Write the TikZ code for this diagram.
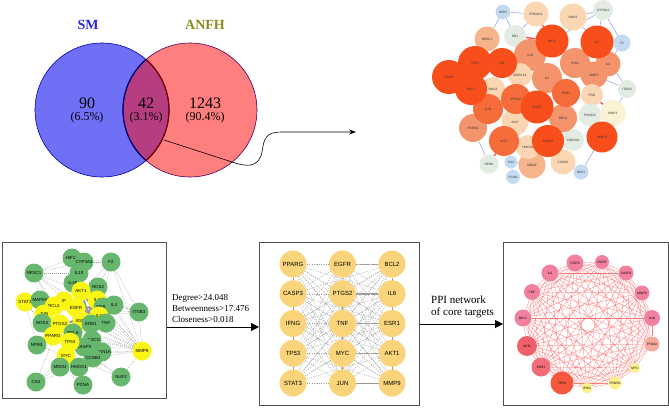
\documentclass[tikz,border=0pt]{standalone}
\usepackage{fontspec}
\setmainfont{Liberation Serif}
\setsansfont{Liberation Sans}
\usetikzlibrary{arrows.meta}
\pgfdeclarelayer{bg}
\pgfdeclarelayer{edges}
\pgfsetlayers{bg,edges,main}
\definecolor{smblue}{RGB}{112,112,246}
\definecolor{anred}{RGB}{255,126,126}
\definecolor{lens}{RGB}{182,62,128}
\definecolor{smtxt}{RGB}{40,40,230}
\definecolor{antxt}{RGB}{140,140,30}
\definecolor{c1}{RGB}{247,78,28}
\definecolor{c2}{RGB}{245,108,58}
\definecolor{c3}{RGB}{244,148,108}
\definecolor{c4}{RGB}{246,180,140}
\definecolor{c5}{RGB}{250,214,178}
\definecolor{c6}{RGB}{226,236,226}
\definecolor{c7}{RGB}{196,218,240}
\definecolor{c8}{RGB}{250,242,210}
\definecolor{gnode}{RGB}{102,182,110}
\definecolor{ynode}{RGB}{250,245,20}
\definecolor{onode}{RGB}{249,212,122}
\definecolor{pnode}{RGB}{240,128,158}
\definecolor{cpt}{RGB}{245,170,160}
\definecolor{cyl}{RGB}{250,240,140}
\definecolor{ctp}{RGB}{246,88,62}
\definecolor{cak}{RGB}{240,96,106}
\definecolor{cesr}{RGB}{240,108,120}
\definecolor{boxc}{RGB}{80,80,80}
\tikzset{
  trn/.style={circle,inner sep=0pt,font=\sffamily\fontsize{3.2}{3.6}\selectfont,text=black!80},
  tre/.style={draw=c7!70!blue,line width=0.5pt},
  trr/.style={draw=red!75,line width=1.3pt},
  bln/.style={circle,inner sep=0pt,minimum size=19pt,font=\sffamily\fontsize{4.4}{5}\selectfont},
  bed/.style={draw=gray!75,dash pattern=on 1pt off 1pt,line width=0.35pt},
  mgn/.style={circle,inner sep=0pt,minimum size=27pt,fill=onode,font=\sffamily\fontsize{6}{7}\selectfont},
  med/.style={draw=gray!75,dash pattern=on 1.2pt off 1.2pt,line width=0.4pt},
  msol/.style={draw=gray!80,line width=0.6pt},
  crn/.style={circle,inner sep=0pt,font=\sffamily\fontsize{3.2}{3.6}\selectfont},
  ced/.style={draw=red!70,line width=0.3pt,opacity=0.7},
  panel/.style={draw=boxc,line width=0.8pt},
  bigarrow/.style={-{Triangle[length=8pt,width=8pt]},line width=1pt},
  lbl/.style={anchor=west,align=left,inner sep=0pt}
}
\begin{document}
\begin{tikzpicture}[x=1pt,y=-1pt]
\useasboundingbox (0,0) rectangle (669,407);
\begin{pgfonlayer}{bg}
\fill[white] (0,0) rectangle (669,407);
\end{pgfonlayer}

% ---------------- Venn ----------------
\fill[smblue] (102,110) circle (67pt);
\fill[anred] (190,110) circle (67pt);
\begin{scope}
  \clip (102,110) circle (67pt);
  \fill[lens] (190,110) circle (67pt);
\end{scope}
\draw[blue!70!black,line width=0.6pt] (102,110) circle (67pt);
\draw[blue!55!red!70!black,line width=0.6pt] (190,110) circle (67pt);
\begin{scope}
  \clip (102,110) circle (67pt);
  \draw[blue!45!black,line width=1.3pt] (190,110) circle (67pt);
\end{scope}
\begin{scope}
  \clip (190,110) circle (67pt);
  \draw[red!45!black,line width=1.3pt] (102,110) circle (67pt);
\end{scope}
\node[text=smtxt,font=\fontsize{14}{16}\selectfont\bfseries] (sm) at (88,25) {SM};
\node[text=antxt,font=\fontsize{14}{16}\selectfont\bfseries] (anfh) at (205,25) {ANFH};
\node[font=\fontsize{16}{18}\selectfont] (n90) at (87,103) {90};
\node[font=\fontsize{12}{14}\selectfont] (p90) at (87,118) {(6.5\%)};
\node[font=\fontsize{16}{18}\selectfont] (n42) at (146,103) {42};
\node[font=\fontsize{12}{14}\selectfont] (p42) at (146,118) {(3.1\%)};
\node[font=\fontsize{16}{18}\selectfont] (n1243) at (205,103) {1243};
\node[font=\fontsize{12}{14}\selectfont] (p1243) at (205,118) {(90.4\%)};
\coordinate (vs) at (164,140);
\coordinate (ve) at (356,132);
\draw[-{Stealth[length=7pt,width=5pt]},line width=0.6pt] (vs) -- (232,162)
  .. controls (246,167) and (259,168) .. (262,152)
  .. controls (264,138) and (266,132) .. (282,132) -- (ve);

% ---------------- top-right network ----------------
\foreach \n/\x/\y/\d/\c/\l in {
 tinsr/503/12/15/c7/INSR, tprk/536/14/25/c5/PRKACA, tnos2/573/17/27/c5/NOS2,
 tcyp/603/10/20/c6/CYP3A4, trb1/515/36/22/c6/RB1, tnr3/487/39/25/c4/NR3C1,
 tf2/622/43/17/c7/F2, til10/530/55/32/c3/IL10, tifng/575/63/30/c3/IFNG,
 til4/608/64/25/c3/IL4, tmapk/520/75/24/c5/MAPK14, til2/547/78/30/c3/IL2,
 tmmp2/594/75/27/c3/MMP2, titg/627/89/18/c6/ITGB3, tnos3/493/89/24/c5/NOS3,
 tpgr/592/95/22/c5/PGR, tpik/590/115/23/c6/PIK3CG, tmmp1/613/113/26/c8/MMP1,
 txiap/515/122/27/c5/XIAP, tccnb/563/162/25/c5/CCNB1, tmdm/532/165/27/c4/MDM2,
 thmox/528/147/24/c5/HMOX1, tnpm/489/164/19/c6/NPM1, tca2/511/162/13/c7/CA2,
 tpcna/513/177/14/c7/PCNA, tnuf/581/172/15/c7/NUF2, tcdk/573/140/22/c6/CDKN1A,
 trela/563/118/28/c3/RELA, tppar/473/128/28/c3/PPARG, tmyc/504/141/30/c2/MYC,
 tjun/488/109/30/c2/JUN, tptgs/516/99/30/c2/PTGS2, tesr/566/93/28/c2/ESR1,
 tbcl/471/89/32/c1/BCL2, tstat/449/77/34/c1/STAT3, ttp53/475/63/34/c1/TP53,
 ttnf/502/63/30/c1/TNF, takt/552/41/33/c1/AKT1, til6/597/42/33/c1/IL6,
 tcasp/548/141/32/c1/CASP3, tmmp9/602/137/31/c1/MMP9, tegfr/537/107/33/c1/EGFR}
 \node[trn,fill=\c,minimum size=\d pt] (\n) at (\x,\y) {\l};
\begin{pgfonlayer}{edges}
\foreach \a/\b in {tinsr/trb1,tinsr/tnr3,tprk/trb1,tcyp/tnos2,tcyp/til6,tcyp/takt,
  tf2/til6,tf2/til4,titg/til6,titg/tmmp2,titg/tmmp1,tnuf/tccnb,tnuf/tmmp9,
  tpcna/tca2,tnpm/tppar,tcyp/tf2,tinsr/tprk,tnos2/til6,tmmp1/tmmp9}
  \draw[tre] (\a) -- (\b);
\foreach \a/\b in {tca2/tmdm,tnpm/tmyc,trb1/takt,tmmp2/tpgr,tmmp1/tpgr,tnos3/tbcl,tprk/takt,tpgr/tmmp9}
  \draw[trr] (\a) -- (\b);
\end{pgfonlayer}

% ---------------- bottom-left panel ----------------
\draw[panel] (2,242) rectangle (166,398);
\foreach \n/\x/\y/\c/\l in {
 bhif/72/258/gnode/HIF1A, bcyp/84/262/gnode/CYP3A4, bf2/111/262/gnode/F2,
 bnr3/34/273/gnode/NR3C1, bil10/79/273/gnode/IL10, bil1/73/283/gnode/IL1B,
 bnos2/98/287/gnode/NOS2, bakt/81/291/ynode/AKT1, bstat/25/302/ynode/STAT3,
 bmapk/40/300/gnode/MAPK8, bifng/64/301/ynode/IF, begfr/76/308/ynode/EGFR,
 bbcl/54/306/ynode/BCL2, bil2/97/300/ynode/IL2, bmmp2/103/307/gnode/MMP2,
 bil4/114/305/gnode/IL4, bitg/139/312/gnode/ITGB3, bjun/44/314/ynode/JUN,
 bil6/99/316/ynode/IL6, besr/82/321/ynode/ESR1, bnos3/42/323/gnode/NOS3,
 bptgs/60/324/ynode/PTGS2, bedn/91/324/gnode/EDN1, btnf/106/323/gnode/TNF,
 bppar/53/336/ynode/PPARG, bpik/92/340/gnode/PIK3CG, brela/73/333/gnode/RELA,
 bcasp/84/347/gnode/CASP3, btp53/70/342/ynode/TP53, bnpm/37/345/gnode/NPM1,
 bcdk/102/352/gnode/CDKN1A, bmyc/66/356/ynode/MYC, bccnb/93/358/gnode/CCNB1,
 bmmp9/142/351/ynode/MMP9, bmdm/60/367/gnode/MDM2, bhmox/79/367/gnode/HMOX1,
 bca2/36/382/gnode/CA2, bpcna/83/385/gnode/PCNA, bnuf/121/377/gnode/NUF2}
 \node[bln,fill=\c] (\n) at (\x,\y) {\l};
\begin{pgfonlayer}{edges}
\foreach \a/\b in {bnr3/bakt,bnr3/begfr,bnr3/bil10,bnr3/bil6,bnr3/bptgs,bnr3/brela,bnr3/bhif,
  bnr3/bcyp,bf2/bcyp,bf2/bakt,bf2/bitg,bf2/bmmp9,bf2/bil6,bf2/bnos2,
  bmmp9/bil6,bmmp9/begfr,bmmp9/bakt,bmmp9/bptgs,bmmp9/btp53,bmmp9/bmyc,bmmp9/brela,
  bmmp9/bjun,bmmp9/bil4,bmmp9/bitg,bmmp9/bedn,bmmp9/bccnb,bmmp9/bil2,bmmp9/besr,bmmp9/bpik,
  bmmp9/bnos2,bmmp9/bmmp2,bmmp9/bcdk,
  bnpm/bppar,bnpm/bptgs,bnpm/bmyc,bnpm/bstat,bnpm/btp53,bca2/bmdm,bca2/bmyc,bca2/bptgs,
  bca2/bhmox,bnuf/bmyc,bnuf/bccnb,bnuf/btp53,bnuf/bmmp9,bpcna/bmyc,bpcna/btp53,bpcna/bmdm,
  bitg/begfr,bitg/bakt,bitg/bil6,bitg/bil2,bstat/bnos3,bstat/bppar,bmapk/bnr3,
  bhif/bf2,bcyp/bil10}
  \draw[bed] (\a) -- (\b);
\foreach \a/\b in {bakt/begfr,begfr/bil6,bil6/brela,bakt/bil6,begfr/brela,bptgs/bil6,
  besr/bedn,bakt/bedn,bil2/besr,bmmp2/begfr}
  \draw[gray!80,line width=2.2pt] (\a) -- (\b);
\end{pgfonlayer}

% ---------------- arrow 1 ----------------
\coordinate (a1s) at (167,327);
\draw[panel] (259,242) rectangle (419,405);
\coordinate (a1e) at (259,327);
\draw[bigarrow] (a1s) -- (a1e);
\node[lbl,font=\fontsize{9}{11}\selectfont] (crit) at (172,309)
  {Degree>24.048\\Betweenness>17.476\\Closeness>0.018};

% ---------------- middle grid ----------------
\foreach \l [count=\i from 0] in {PPARG,EGFR,BCL2,CASP3,PTGS2,IL6,IFNG,TNF,ESR1,TP53,MYC,AKT1,STAT3,JUN,MMP9}{
  \pgfmathtruncatemacro\cc{mod(\i,3)}
  \pgfmathtruncatemacro\rr{int(\i/3)}
  \node[mgn] (m\i) at ({293+49.5*\cc},{264+29.75*\rr}) {\l};
}
\begin{pgfonlayer}{edges}
\foreach \i in {0,...,14}{
  \foreach \j in {0,...,14}{
    \ifnum\j>\i \draw[med] (m\i) -- (m\j); \fi
  }
}
\foreach \a/\b in {m0/m3,m3/m6,m6/m9,m9/m12,m2/m5,m5/m8,m8/m11,m11/m14,m13/m14,m4/m5}
  \draw[msol] (\a) -- (\b);
\end{pgfonlayer}

% ---------------- arrow 2 ----------------
\coordinate (a2s) at (420,324);
\draw[panel] (503,242) rectangle (668,405);
\coordinate (a2e) at (503,324);
\draw[bigarrow] (a2s) -- (a2e);
\node[lbl,font=\fontsize{11}{12}\selectfont] (ppi) at (431,306.5)
  {PPI network\\of core targets};

% ---------------- circle network ----------------
\foreach \x/\y/\d/\c/\l [count=\i from 0] in {
 575/263/17/pnode/STAT3, 602/262/14/pnode/EGFR, 626/273/15/pnode/CASP3,
 642/293/15/pnode/MMP9, 652/318/16/pnode/JUN, 652/344/15/cpt/PTGS2,
 635/368/10/cyl/MYC, 615/383/13/cyl/PPARG, 587/388/11/cyl/IFNG,
 562/383/23/ctp/TP53, 541/367/19/cesr/ESR1, 527/346/20/cak/AKT1,
 523/318/17/pnode/BCL2, 532/292/16/pnode/TNF, 550/273/17/pnode/IL6}
 \node[crn,fill=\c,minimum size=\d pt] (c\i) at (\x,\y) {\l};
\begin{pgfonlayer}{edges}
\foreach \i in {0,...,14}{
  \foreach \j in {0,...,14}{
    \ifnum\j>\i \draw[ced] (c\i) -- (c\j); \fi
  }
}
\end{pgfonlayer}
\end{tikzpicture}
\end{document}
